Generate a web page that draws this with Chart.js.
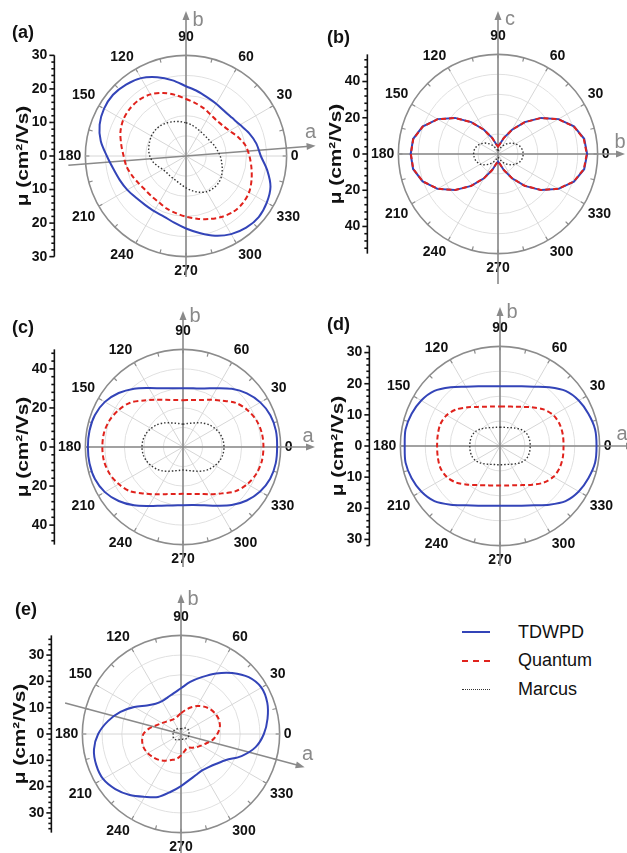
<!DOCTYPE html>
<html lang="en">
<head>
<meta charset="UTF-8" />
<title>Angular mobility - TDWPD / Quantum / Marcus</title>
<style>
  body {
    margin: 0;
    width: 627px; height: 853px;
    overflow: hidden;
    position: relative;
    background: #fff;
    font-family: 'Liberation Sans', Arial, sans-serif;
    color: #111;
  }
  canvas { position: absolute; }
  .tag { position: absolute; font-weight: bold; font-size: 18px; line-height: 18px; }
  .legend { position: absolute; left: 462px; top: 618px; font-size: 18px; }
  .legend .row { display: flex; align-items: center; height: 28.5px; }
  .legend .swatch { width: 28px; margin-right: 28px; height: 0; }
</style>
</head>
<body>
  <canvas id="pa" width="320" height="290" style="left:0;top:0"></canvas>
  <canvas id="pb" width="327" height="290" style="left:300px;top:0"></canvas>
  <canvas id="pc" width="320" height="290" style="left:0;top:290px"></canvas>
  <canvas id="pd" width="327" height="290" style="left:300px;top:290px"></canvas>
  <canvas id="pe" width="320" height="300" style="left:0;top:575px"></canvas>

  <div class="tag" style="left:12px;top:23px">(a)</div>
  <div class="tag" style="left:327px;top:28px">(b)</div>
  <div class="tag" style="left:12px;top:318px">(c)</div>
  <div class="tag" style="left:327px;top:315px">(d)</div>
  <div class="tag" style="left:15px;top:600px">(e)</div>

  <div class="legend">
    <div class="row"><span class="swatch" style="border-top:2px solid #3344b8"></span>TDWPD</div>
    <div class="row"><span class="swatch" style="border-top:2px dashed #e0221c"></span>Quantum</div>
    <div class="row"><span class="swatch" style="border-top:1.5px dotted #333"></span>Marcus</div>
  </div>

  <script src="https://cdn.jsdelivr.net/npm/chart.js"></script>
  <script>
  // angles in degrees, counter-clockwise from the +x direction
  const ANGLES = [0,10,20,30,40,50,60,70,80,90,100,110,120,130,140,150,160,170,
                  180,190,200,210,220,230,240,250,260,270,280,290,300,310,320,330,340,350];

  // mobility (cm2/Vs)
  const A_TDWPD   = [22.3,21.3,20.0,18.6,17.8,17.6,18.0,18.6,19.6,20.8,22.9,25.0,26.8,27.8,28.4,28.2,27.4,25.8,
                     23.6,22.0,21.0,20.2,19.4,19.0,19.0,19.2,20.2,21.6,23.3,25.3,26.9,27.9,28.3,27.8,26.8,24.6];
  const A_QUANTUM = [18.9,18.0,16.5,15.0,14.2,14.0,14.4,15.2,16.0,17.0,18.5,20.0,21.2,21.8,21.9,21.6,20.8,19.6,
                     18.6,18.0,17.1,16.3,15.8,15.8,16.0,16.7,17.3,18.1,19.0,20.0,21.0,21.8,22.0,21.7,20.8,19.8];
  const A_MARCUS  = [10.2,9.5,9.0,8.5,8.3,8.3,8.5,8.9,9.4,9.9,10.4,10.9,11.4,11.8,12.0,11.9,11.6,11.3,
                     10.8,10.0,8.9,8.0,7.6,7.6,7.7,8.0,8.6,9.5,10.5,11.5,12.3,12.6,12.6,12.2,11.5,10.8];

  const B_TDWPD   = [49.2,48.3,44.6,38.5,31.0,23.0,15.5,9.5,5.5,4.2,5.5,9.5,15.5,23.0,31.0,38.5,44.3,47.6,
                     48.2,47.6,44.3,38.5,31.0,23.0,15.5,9.5,5.5,4.2,5.5,9.5,15.5,23.0,31.0,38.5,44.6,48.3];
  const B_QUANTUM = [49.0,48.1,44.5,38.4,30.9,22.9,15.4,9.4,5.4,4.1,5.4,9.4,15.4,22.9,30.9,38.4,44.2,47.5,
                     48.1,47.5,44.2,38.4,30.9,22.9,15.4,9.4,5.4,4.1,5.4,9.4,15.4,22.9,30.9,38.4,44.5,48.1];
  const B_MARCUS  = [14.0,13.7,12.8,11.3,9.4,7.3,5.3,3.5,2.2,1.8,2.2,3.5,5.3,7.3,9.4,11.3,12.6,13.3,
                     13.5,13.3,12.6,11.3,9.4,7.3,5.3,3.5,2.2,1.8,2.2,3.5,5.3,7.3,9.4,11.3,12.8,13.7];

  const C_TDWPD   = [48.2,48.3,47.6,45.7,42.7,38.9,34.8,31.9,30.5,30.1,30.5,32.0,34.9,39.0,43.0,46.2,48.0,48.6,
                     48.7,48.6,48.0,46.2,43.0,39.0,34.9,32.0,30.4,29.8,30.2,31.8,34.7,38.8,42.6,45.6,47.5,48.2];
  const C_QUANTUM = [41.2,41.0,40.0,38.0,35.2,31.0,27.9,25.6,24.4,24.0,24.4,25.7,28.0,31.1,35.3,38.0,40.0,41.1,
                     41.3,41.1,40.0,38.0,35.3,31.1,28.0,25.7,24.4,24.0,24.4,25.6,27.9,31.0,35.2,38.0,40.0,41.0];
  const C_MARCUS  = [21.0,20.8,20.1,18.9,17.6,16.0,14.3,13.0,12.2,11.7,12.2,13.0,14.3,16.0,17.6,18.9,20.1,20.8,
                     21.0,20.8,20.1,18.9,17.6,16.0,14.3,13.0,12.2,11.8,12.2,13.0,14.3,16.0,17.6,18.9,20.1,20.8];

  const D_TDWPD   = [31.0,31.0,30.2,29.2,27.5,24.6,22.0,20.4,19.5,19.2,19.5,20.4,22.0,24.6,27.5,29.2,30.2,30.8,
                     30.6,30.8,30.2,29.2,27.5,24.6,22.0,20.4,19.5,19.2,19.5,20.4,22.0,24.6,27.5,29.2,30.2,31.0];
  const D_QUANTUM = [20.4,20.5,20.4,19.8,18.3,16.2,14.5,13.4,12.9,12.7,12.9,13.4,14.5,16.2,18.3,19.8,20.4,20.3,
                     20.2,20.3,20.4,19.8,18.3,16.2,14.5,13.4,12.9,12.7,12.9,13.4,14.5,16.2,18.3,19.8,20.4,20.5];
  const D_MARCUS  = [9.7,9.7,9.6,9.2,8.4,7.5,6.8,6.3,6.1,6.0,6.1,6.3,6.8,7.5,8.4,9.2,9.6,9.7,
                     9.7,9.7,9.6,9.2,8.4,7.5,6.8,6.3,6.1,6.0,6.1,6.3,6.8,7.5,8.4,9.2,9.6,9.7];

  const E_TDWPD   = [31.5,33.4,34.9,35.3,33.6,30.3,26.6,23.0,20.1,17.4,15.8,14.8,14.4,15.0,16.9,20.5,24.5,28.2,
                     31.5,33.6,34.3,34.2,32.6,30.3,27.6,25.5,22.3,19.8,17.8,16.6,16.0,16.4,17.6,19.8,24.5,28.8];
  const E_QUANTUM = [13.8,15.0,15.4,15.2,14.6,13.6,12.3,10.7,9.2,7.9,6.9,6.4,6.3,6.7,7.3,8.3,9.8,12.2,
                     14.3,15.0,15.1,14.6,13.8,12.9,11.7,10.5,9.6,8.2,6.8,6.0,6.0,6.8,7.8,8.8,10.3,12.3];
  const E_MARCUS  = [3.0,3.1,3.2,3.2,3.1,2.9,2.6,2.3,2.1,2.0,2.0,2.1,2.3,2.5,2.7,2.9,3.0,3.0,
                     3.0,3.1,3.2,3.2,3.1,2.9,2.6,2.3,2.1,2.0,2.0,2.1,2.3,2.5,2.7,2.9,3.0,3.0];

  const SERIES_NAMES = ['TDWPD', 'Quantum', 'Marcus'];
  const AXIS_TITLE = 'μ (cm²/Vs)';

  const FONT = "'Liberation Sans', Arial, sans-serif";
  const GREY = '#8a8a8a';

  // radar draws index 0 at the top and goes clockwise, so start at 90 deg and walk down
  const ORDER = ANGLES.map((_, k) => (9 - k + 36) % 36);
  const radarLabels = ORDER.map(i => ANGLES[i]);
  const pick = arr => ORDER.map(i => arr[i]);

  const panelDecor = {
    id: 'panelDecor',
    beforeDatasetsDraw(chart, args, o) {
      const s = chart.scales.r, ctx = chart.ctx;
      ctx.save();
      // small ticks on the rim every 15 deg
      ctx.strokeStyle = '#8c8c8c';
      ctx.lineWidth = 1.2;
      for (let a = 0; a < 360; a += 15) {
        const t = a * Math.PI / 180;
        const c = Math.cos(t), sn = -Math.sin(t);
        ctx.beginPath();
        ctx.moveTo(s.xCenter + c * s.drawingArea, s.yCenter + sn * s.drawingArea);
        ctx.lineTo(s.xCenter + c * (s.drawingArea - 4), s.yCenter + sn * (s.drawingArea - 4));
        ctx.stroke();
      }
      // crystal axes
      ctx.strokeStyle = GREY;
      ctx.fillStyle = GREY;
      ctx.lineWidth = 1.6;
      o.crystal.forEach(ax => {
        const t = ax.angle * Math.PI / 180;
        const ux = Math.cos(t), uy = -Math.sin(t);
        const x0 = s.xCenter - ux * ax.back, y0 = s.yCenter - uy * ax.back;
        const x1 = s.xCenter + ux * ax.front, y1 = s.yCenter + uy * ax.front;
        ctx.beginPath();
        ctx.moveTo(x0, y0);
        ctx.lineTo(x1 - ux * 6, y1 - uy * 6);
        ctx.stroke();
        ctx.beginPath();
        ctx.moveTo(x1, y1);
        ctx.lineTo(x1 - ux * 9 - uy * 3.5, y1 - uy * 9 + ux * 3.5);
        ctx.lineTo(x1 - ux * 9 + uy * 3.5, y1 - uy * 9 - ux * 3.5);
        ctx.closePath();
        ctx.fill();
        ctx.font = '20px ' + FONT;
        ctx.textAlign = 'center';
        ctx.textBaseline = 'middle';
        ctx.fillText(ax.name, x1 + ax.lx, y1 + ax.ly);
      });
      ctx.restore();
    },
    afterDraw(chart, args, o) {
      // the mobility scale on the left, mirrored about the centre
      const s = chart.scales.r, ctx = chart.ctx;
      const x = s.xCenter - s.drawingArea - 31;
      const max = s.max;
      ctx.save();
      ctx.strokeStyle = '#111';
      ctx.fillStyle = '#111';
      ctx.lineWidth = 1.6;
      ctx.beginPath();
      ctx.moveTo(x, s.yCenter - s.getDistanceFromCenterForValue(max));
      ctx.lineTo(x, s.yCenter + s.getDistanceFromCenterForValue(max));
      ctx.stroke();
      ctx.font = 'bold 14px ' + FONT;
      ctx.textAlign = 'right';
      ctx.textBaseline = 'middle';
      for (let v = 0; v <= max + 0.001; v += o.minor) {
        const d = s.getDistanceFromCenterForValue(v);
        const major = Math.abs(v / o.major - Math.round(v / o.major)) < 1e-6;
        const len = major ? 5 : 3;
        [-1, 1].forEach(sign => {
          if (v === 0 && sign === 1) return;
          const y = s.yCenter + sign * d;
          ctx.beginPath();
          ctx.moveTo(x - len, y);
          ctx.lineTo(x, y);
          ctx.stroke();
          if (major) ctx.fillText(String(Math.round(v)), x - 7, y);
        });
      }
      // axis title, a little stretched along its length like the original
      ctx.translate(x - 31, s.yCenter);
      ctx.rotate(-Math.PI / 2);
      ctx.scale(1.3, 1);
      ctx.font = 'bold 16px ' + FONT;
      ctx.textAlign = 'center';
      ctx.fillText(AXIS_TITLE, 0, 0);
      ctx.restore();
    }
  };

  function makePanel(id, p) {
    const data = [p.tdwpd, p.quantum, p.marcus];
    return new Chart(document.getElementById(id), {
      type: 'radar',
      data: {
        labels: radarLabels,
        datasets: [
          { label: SERIES_NAMES[0], data: pick(data[0]), borderColor: '#3344b8', borderWidth: 2, order: 2 },
          { label: SERIES_NAMES[1], data: pick(data[1]), borderColor: '#e0221c', borderWidth: 2, borderDash: [5, 3], order: 1 },
          { label: SERIES_NAMES[2], data: pick(data[2]), borderColor: '#333', borderWidth: 1.4, borderDash: [1.5, 2], order: 0 }
        ].map(d => Object.assign(d, { fill: false, backgroundColor: 'rgba(0,0,0,0)', tension: p.tension, pointRadius: 0 }))
      },
      options: {
        responsive: false,
        animation: false,
        events: [],
        layout: { padding: p.padding },
        plugins: {
          legend: { display: false },
          tooltip: { enabled: false },
          panelDecor: { crystal: p.crystal, major: p.major, minor: p.minor }
        },
        scales: {
          r: {
            min: 0,
            max: p.max,
            startAngle: 0,
            ticks: { display: false, stepSize: p.step },
            grid: {
              circular: true,
              color: c => (c.tick && c.tick.value >= p.max - 1e-6) ? '#8c8c8c' : '#e0e0e0',
              lineWidth: c => (c.tick && c.tick.value >= p.max - 1e-6) ? 1.6 : 1
            },
            angleLines: {
              color: c => c.label !== '' ? '#d6d6d6' : 'rgba(0,0,0,0)',
              lineWidth: 1
            },
            pointLabels: {
              callback: label => (label % 30 === 0 ? String(label) : ''),
              color: '#111',
              font: { family: FONT, size: 14, weight: 'bold' },
              padding: c => c.label === '90' ? 10 : (c.label === '270' ? 6 : 4)
            }
          }
        }
      },
      plugins: [panelDecor]
    });
  }

  makePanel('pa', {
    tdwpd: A_TDWPD, quantum: A_QUANTUM, marcus: A_MARCUS,
    max: 30, step: 6, major: 10, minor: 2, tension: 0.3,
    padding: { left: 51, top: 27, right: 13, bottom: 7 },
    crystal: [
      { name: 'b', angle: 90, back: 121, front: 145, lx: 12, ly: 9 },
      { name: 'a', angle: 4.5, back: 118, front: 130, lx: -5, ly: -13 }
    ]
  });

  makePanel('pb', {
    tdwpd: B_TDWPD, quantum: B_QUANTUM, marcus: B_MARCUS,
    max: 55, step: 11, major: 20, minor: 4, tension: 0,
    padding: { left: 64, top: 26, right: 9, bottom: 10 },
    crystal: [
      { name: 'c', angle: 90, back: 130, front: 143, lx: 12, ly: 8 },
      { name: 'b', angle: 0, back: 99, front: 127, lx: -5, ly: -12 }
    ]
  });

  makePanel('pc', {
    tdwpd: C_TDWPD, quantum: C_QUANTUM, marcus: C_MARCUS,
    max: 50, step: 10, major: 20, minor: 4, tension: 0.3,
    padding: { left: 51, top: 31, right: 19, bottom: 9 },
    crystal: [
      { name: 'b', angle: 90, back: 120, front: 136, lx: 12, ly: 5 },
      { name: 'a', angle: 0, back: 97, front: 132, lx: -7, ly: -11 }
    ]
  });

  makePanel('pd', {
    tdwpd: D_TDWPD, quantum: D_QUANTUM, marcus: D_MARCUS,
    max: 32, step: 8, major: 10, minor: 2, tension: 0.3,
    padding: { left: 66, top: 28, right: 7, bottom: 8 },
    crystal: [
      { name: 'b', angle: 90, back: 120, front: 139, lx: 12, ly: 5 },
      { name: 'a', angle: 0, back: 99, front: 135, lx: -13, ly: -12 }
    ]
  });

  makePanel('pe', {
    tdwpd: E_TDWPD, quantum: E_QUANTUM, marcus: E_MARCUS,
    max: 37.5, step: 7.5, major: 10, minor: 2, tension: 0.3,
    padding: { left: 48, top: 32, right: 20, bottom: 16 },
    crystal: [
      { name: 'b', angle: 90, back: 130, front: 140, lx: 12, ly: 5 },
      { name: 'a', angle: -15, back: 120, front: 128, lx: 3, ly: -13 }
    ]
  });
  </script>
</body>
</html>
